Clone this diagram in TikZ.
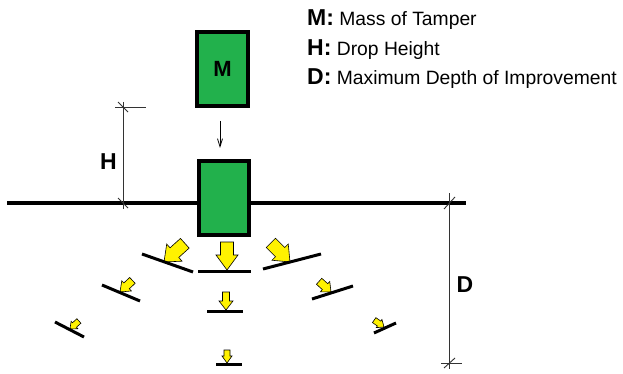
\documentclass[tikz,border=0pt]{standalone}
\usepackage{fontspec}
\setmainfont{Liberation Sans}
\usetikzlibrary{arrows.meta}
\definecolor{tgreen}{RGB}{34,177,76}
\definecolor{ayellow}{RGB}{255,242,0}
\begin{document}
\begin{tikzpicture}[x=1pt,y=-1pt,
  box/.style={draw=black, line width=4pt, fill=tgreen, inner sep=0pt},
  plate/.style={line width=3pt, line cap=butt},
  dim/.style={line width=0.9pt, draw=black!80},
  lbl/.style={font=\bfseries\fontsize{23}{23}\selectfont, inner sep=0pt},
  leg/.style={font=\fontsize{19.3}{24}\selectfont, anchor=base west, inner sep=0pt},
  pics/barrow/.style n args={4}{code={
    \filldraw[fill=ayellow, draw=black, line width=0.6pt, line join=miter]
      (0,0) -- (-#2,#4/2) -- (-#2,#3/2) -- (-#1,#3/2) -- (-#1,-#3/2)
      -- (-#2,-#3/2) -- (-#2,-#4/2) -- cycle;
  }}]
\fill[white] (0,0) rectangle (623,374);
\useasboundingbox (0,0) rectangle (623,374);

% legend
\node[leg] (legM) at (307,26) {{\bfseries\fontsize{23}{23}\selectfont M:} Mass of Tamper};
\node[leg] (legH) at (307,56) {{\bfseries\fontsize{23}{23}\selectfont H:} Drop Height};
\node[leg] (legD) at (307,85) {{\bfseries\fontsize{23}{23}\selectfont D:} Maximum Depth of Improvement};

% ground
\draw[line width=4.5pt] (7,203) -- (466,203);

% tamper boxes
\node[box, minimum width=51pt, minimum height=74pt, font=\bfseries\fontsize{22}{22}\selectfont] (mtop) at (222.5,69) {M};
\node[box, minimum width=50pt, minimum height=74pt] (mbot) at (224,198) {};

% drop arrow
\coordinate (d1) at (220,121);
\coordinate (d2) at (220,148);
\draw[line width=0.8pt, -{Straight Barb[length=8pt,width=5pt]}] (d1) -- (d2);

% H dimension
\draw[dim] (123,102) -- (123,209);
\draw[dim] (115,107) -- (146,107);
\draw[dim] (118,102) -- (128,112);
\draw[dim] (118,198) -- (128,208);
\node[lbl] (hl) at (108.5,161.5) {H};

% D dimension
\draw[dim] (449,193) -- (449,369);
\draw[dim] (441,363) -- (462,363);
\draw[dim] (444,209) -- (455,197);
\draw[dim] (444,368) -- (455,358);
\node[lbl] (dl) at (465,285) {D};

% yellow arrows
\pic[rotate=-90] at (227,270) {barrow={28}{15}{13}{22}};
\pic[rotate=-90] at (226,310) {barrow={18}{9}{7}{14}};
\pic[rotate=-90] at (227,363) {barrow={13}{7}{6}{10}};
\pic[rotate=-138] at (164,262) {barrow={28}{14}{13}{23}};
\pic[rotate=-137] at (120,292) {barrow={17}{9}{8}{14}};
\pic[rotate=-138] at (70,329) {barrow={12}{6}{6}{10}};
\pic[rotate=-45] at (290,262) {barrow={27}{14}{13}{23}};
\pic[rotate=-42] at (331,292) {barrow={16}{8}{8}{14}};
\pic[rotate=-35] at (384,327) {barrow={12}{6}{6}{10}};

% plates
\draw[plate] (198,271) -- (251,271);
\draw[plate] (207,311) -- (243,311);
\draw[plate] (216,364) -- (242,364);
\draw[plate] (142,254) -- (193,272);
\draw[plate] (102,285) -- (140,301);
\draw[plate] (55,322) -- (84,337);
\draw[plate] (263,269) -- (321,254);
\draw[plate] (312,299) -- (353,286);
\draw[plate] (374,333) -- (396,323);
\end{tikzpicture}
\end{document}
